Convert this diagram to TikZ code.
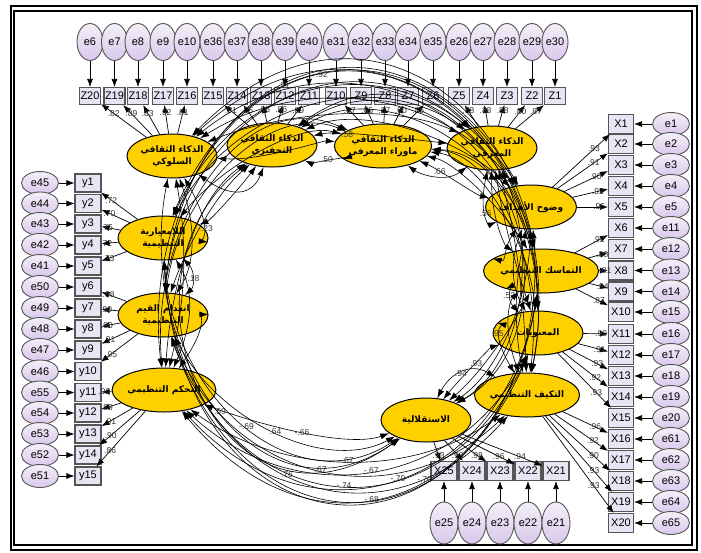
\documentclass[tikz,border=0pt]{standalone}
\usepackage{fontspec}
\setmainfont{Liberation Sans}
\newfontfamily\arabicfont[Script=Arabic]{DejaVu Sans}
\TeXXeTstate=1
\usetikzlibrary{arrows.meta,shapes.geometric,calc}
\definecolor{errtop}{HTML}{F4F0F8}
\definecolor{errbot}{HTML}{D9C7EC}
\definecolor{boxfill}{HTML}{E9E4F3}
\definecolor{bordgray}{HTML}{555555}
\definecolor{latfill}{HTML}{FFD000}
\definecolor{labgray}{HTML}{333333}
\tikzset{
  err/.style={ellipse, draw=bordgray, line width=0.9pt, top color=errtop, bottom color=errbot, inner sep=0pt, font=\fontsize{11}{11}\selectfont},
  errT/.style={err, minimum width=26pt, minimum height=37pt},
  errS/.style={err, minimum width=37pt, minimum height=23pt},
  errB/.style={err, minimum width=28pt, minimum height=42pt},
  obs/.style={rectangle, draw=bordgray, line width=1.1pt, fill=boxfill, inner sep=0pt, font=\fontsize{11}{11}\selectfont},
  obsZ/.style={obs, minimum width=21pt, minimum height=17pt},
  obsY/.style={obs, minimum width=26pt, minimum height=18pt},
  obsX/.style={obs, minimum width=25pt, minimum height=19pt},
  lat/.style={ellipse, draw=black, line width=1pt, fill=latfill, minimum width=90pt, minimum height=44pt, inner sep=0pt, align=center, font=\arabicfont\bfseries\fontsize{9}{12}\selectfont},
  arr/.style={-{Latex[length=8pt,width=6pt]}, line width=0.7pt},
  cov/.style={{Latex[length=9pt,width=6pt]}-{Latex[length=9pt,width=6pt]}, line width=0.6pt},
  lbl/.style={font=\fontsize{8.5}{9}\selectfont, text=labgray, inner sep=1pt}
}
% covariance labels: value and position along the arc
\def\cvlab#1#2#3{\expandafter\def\csname cl@#1\endcsname{#2}\expandafter\def\csname cp@#1\endcsname{#3}}
\cvlab{aut@con}{-.66}{0.5}
\cvlab{ada@con}{-.67}{0.5}
\cvlab{mor@con}{-.67}{0.5}
\cvlab{con@coh}{-.70}{0.5}
\cvlab{con@goa}{-.70}{0.5}
\cvlab{aut@val}{.64}{0.5}
\cvlab{ada@val}{-.67}{0.5}
\cvlab{mor@val}{-.74}{0.5}
\cvlab{val@coh}{-.68}{0.5}
\cvlab{aut@nor}{-.69}{0.5}
\cvlab{ada@nor}{.76}{0.5}
\cvlab{aut@beh}{.59}{0.5}
\cvlab{ada@aut}{.94}{0.5}
\cvlab{mor@ada}{.95}{0.5}
\cvlab{mor@aut}{.93}{0.5}
\cvlab{cog@goa}{.56}{0.5}
\cvlab{mor@coh}{.52}{0.5}
\cvlab{nor@coh}{.92}{0.4}
\cvlab{val@goa}{.21}{0.45}
\cvlab{mot@cog}{.58}{0.3}
\cvlab{met@goa}{.66}{0.3}
\cvlab{mot@met}{.50}{0.5}
\cvlab{nor@beh}{-.23}{0.5}
\cvlab{val@nor}{-.18}{0.5}
\def\latlist{mor/15.3,ada/32.9,aut/61.8,con/150.4,val/170.1,nor/193.1,beh/215.2,mot/240.1,met/282.7,cog/316.6,goa/337.3,coh/356.4}
\begin{document}
\begin{tikzpicture}[x=1pt,y=-1pt]
\useasboundingbox (0,0) rectangle (701,552);
\fill[white] (0,0) rectangle (701,552);
\draw[line width=2.2pt] (11,6) rectangle (697,550);
\draw[line width=1.3pt] (14,11) rectangle (692,545);

% latent variables
\node[lat] (beh) at (172,156) {\beginR الذكاء الثقافي\endR\\\beginR السلوكي\endR};
\node[lat] (mot) at (272,145) {\beginR الذكاء الثقافي\endR\\\beginR التحفيزي\endR};
\node[lat] (met) at (383,146) {\beginR الذكاء الثقافي\endR\\\beginR ماوراء المعرفي\endR};
\node[lat] (cog) at (492,148) {\beginR الذكاء الثقافي\endR\\\beginR المعرفي\endR};
\node[lat] (goa) at (531,207) {\beginR وضوح الأهداف\endR};
\node[lat] (coh) at (541,271) {\beginR التماسك التنظيمي\endR};
\node[lat] (mor) at (538,333) {\beginR المعنويات\endR};
\node[lat] (ada) at (527,395) {\beginR التكيف التنظيمي\endR};
\node[lat] (aut) at (426,420) {\beginR الاستقلالية\endR};
\node[lat] (con) at (164,390) {\beginR التحكم التنظيمي\endR};
\node[lat] (val) at (163,315) {\beginR انعدام القيم\endR\\\beginR التنظيمية\endR};
\node[lat] (nor) at (163,238) {\beginR اللامعيارية\endR\\\beginR التنظيمية\endR};

% top indicators
\foreach \x/\z/\e in {90/20/6,114.5/19/7,138/18/8,163/17/9,187/16/10,213/15/36,237/14/37,261/13/38,285/12/39,309/11/40,336/10/31,361/9/32,385/8/33,408/7/34,433/6/35,459/5/26,483/4/27,507/3/28,532/2/29,555/1/30}{
  \node[errT] (e\e) at (\x,42) {e\e};
  \node[obsZ] (Z\z) at (\x,96) {Z\z};
  \draw[arr] (e\e) -- (Z\z);
}
% left indicators
\foreach \y/\n/\e in {183/1/45,203.5/2/44,224/3/43,245/4/42,266/5/41,287/6/50,308/7/49,329/8/48,350/9/47,371.5/10/46,392.5/11/55,413/12/54,434/13/53,455/14/52,476/15/51}{
  \node[errS] (e\e) at (40,\y) {e\e};
  \node[obsY] (y\n) at (88,\y) {y\n};
  \draw[arr] (e\e) -- (y\n);
}
% right indicators
\foreach \y/\n/\e in {124/1/1,144/2/2,165/3/3,186/4/4,207/5/5,228/6/11,249/7/12,270.5/8/13,291.5/9/14,312/10/15,334/11/16,355/12/17,376/13/18,397/14/19,418/15/20,439/16/61,460/17/62,481/18/63,502/19/64,523/20/65}{
  \node[errS] (e\e) at (671,\y) {e\e};
  \node[obsX] (X\n) at (621,\y) {X\n};
  \draw[arr] (e\e) -- (X\n);
}
% bottom indicators
\foreach \x/\n/\e in {444/25/25,472/24/24,500/23/23,528/22/22,556/21/21}{
  \node[errB] (e\e) at (\x,523) {e\e};
  \node[obsX, minimum width=26pt] (X\n) at (\x,471) {X\n};
  \draw[arr] (e\e) -- (X\n);
}

% loadings
\foreach \l/\b/\v in {beh/Z20/.82,beh/Z19/.89,beh/Z18/.83,beh/Z17/.92,beh/Z16/.81,
  mot/Z15/.91,mot/Z14/.85,mot/Z13/.88,mot/Z12/.86,mot/Z11/.89,
  met/Z10/.87,met/Z9/.85,met/Z8/.87,met/Z7/.90,met/Z6/.86,
  cog/Z5/.83,cog/Z4/.88,cog/Z3/.88,cog/Z2/.80,cog/Z1/.87,
  goa/X1/.93,goa/X2/.91,goa/X3/.90,goa/X4/.92,goa/X5/.95,
  coh/X6/.92,coh/X7/.88,coh/X8/.81,coh/X9/.94,coh/X10/.87,
  mor/X11/.90,mor/X12/.91,mor/X13/.93,mor/X14/.92,mor/X15/.93,
  ada/X16/.96,ada/X17/.92,ada/X18/.90,ada/X19/.93,ada/X20/.93,
  aut/X25/.93,aut/X24/.93,aut/X23/.98,aut/X22/.96,aut/X21/.94,
  nor/y1/.72,nor/y2/.70,nor/y3/.75,nor/y4/.72,nor/y5/.73,
  val/y6/.88,val/y7/.90,val/y8/.90,val/y9/.91,val/y10/.95,
  con/y11/.92,con/y12/.89,con/y13/.91,con/y14/.90,con/y15/.86}{
  \draw[arr] (\l) -- (\b) node[lbl,pos=0.72]{\v};
}

% covariances
\foreach \a/\ta [count=\i] in \latlist {
  \foreach \b/\tb [count=\j] in \latlist {
    \ifnum\j>\i\relax
      \pgfmathsetmacro\cvdd{\tb-\ta}
      \ifdim\cvdd pt>180pt
        \pgfmathsetmacro\cvsa{\tb}\pgfmathsetmacro\cvea{\ta+360}
        \edef\cvsn{\b}\edef\cven{\a}
      \else
        \pgfmathsetmacro\cvsa{\ta}\pgfmathsetmacro\cvea{\tb}
        \edef\cvsn{\a}\edef\cven{\b}
      \fi
      \pgfmathsetmacro\cvD{\cvea-\cvsa}
      \pgfmathsetmacro\cvkx{0.8+0.5*(\cvD/180)^2}
      \pgfmathsetmacro\cvky{0.8+1.6*(\cvD/180)^2}
      \pgfmathsetmacro\cvpa{\cvsa+\cvD/3}
      \pgfmathsetmacro\cvqa{\cvea-\cvD/3}
      \pgfmathsetmacro\cvpx{352+195*\cvkx*cos(\cvpa)}
      \pgfmathsetmacro\cvpy{282+140*\cvky*sin(\cvpa)}
      \pgfmathsetmacro\cvqx{352+195*\cvkx*cos(\cvqa)}
      \pgfmathsetmacro\cvqy{282+140*\cvky*sin(\cvqa)}
      \ifcsname cl@\a @\b\endcsname
        \draw[cov] (\cvsn) .. controls (\cvpx,\cvpy) and (\cvqx,\cvqy) .. (\cven) node[lbl,pos=\csname cp@\a @\b\endcsname]{\csname cl@\a @\b\endcsname};
      \else
        \draw[cov] (\cvsn) .. controls (\cvpx,\cvpy) and (\cvqx,\cvqy) .. (\cven);
      \fi
    \fi
  }
}
\end{tikzpicture}
\end{document}
